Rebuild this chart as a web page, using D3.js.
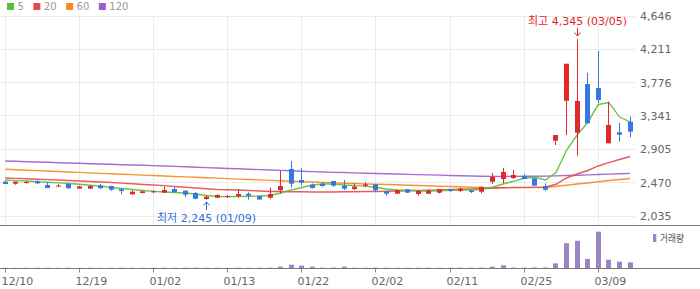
<!DOCTYPE html>
<html>
<head>
<meta charset="utf-8">
<script src="https://cdn.jsdelivr.net/npm/d3@7"></script>
<style>
  body { margin: 0; background: #fff; }
  text { font-family: "DejaVu Sans", "Noto Sans CJK KR", sans-serif; }
</style>
</head>
<body>
<script>
// daily candles, 12/10 .. 03/12
const dates = ["12/10","12/11","12/12","12/15","12/16","12/17","12/18","12/19","12/22","12/23",
  "12/24","12/26","12/29","12/30","01/02","01/05","01/06","01/07","01/08","01/09",
  "01/12","01/13","01/14","01/15","01/16","01/19","01/20","01/21","01/22","01/23",
  "01/26","01/27","01/28","01/29","01/30","02/02","02/03","02/04","02/05","02/06",
  "02/09","02/10","02/11","02/12","02/13","02/19","02/20","02/23","02/24","02/25",
  "02/26","02/27","03/03","03/04","03/05","03/06","03/09","03/10","03/11","03/12"];

const open  = [2483,2456,2470,2488,2440,2425,2453,2392,2392,2430, 2426,2384,2318,2335,2348,2340,2387,2365,2335,2257,
  2274,2285,2296,2326,2296,2274,2374,2649,2505,2444, 2457,2492,2431,2387,2431,2449,2361,2326,2384,2322,
  2326,2340,2387,2365,2370,2352,2483,2518,2531,2557, 2527,2426,3018,3540,3122,3758,3706,2984,3128,3266];
const high  = [2496,2483,2490,2500,2475,2450,2465,2430,2440,2455, 2430,2397,2370,2370,2370,2418,2410,2374,2348,2305,
  2320,2310,2387,2344,2296,2405,2622,2753,2662,2460, 2475,2492,2505,2462,2475,2449,2361,2380,2384,2374,
  2384,2384,2387,2405,2380,2423,2596,2662,2636,2583, 2527,2462,3092,4023,4345,3906,4189,3527,3249,3331];
const low   = [2451,2443,2460,2450,2400,2415,2392,2392,2390,2392, 2365,2318,2318,2330,2335,2335,2340,2283,2255,2245,
  2270,2270,2274,2248,2250,2261,2326,2405,2435,2395, 2418,2418,2374,2374,2410,2344,2300,2326,2335,2300,
  2322,2330,2348,2348,2335,2330,2453,2462,2518,2518, 2431,2365,2961,3092,2822,3245,3510,2984,3005,3062];
const close = [2453,2483,2478,2462,2400,2432,2397,2422,2426,2397, 2378,2361,2352,2357,2357,2374,2348,2313,2261,2287,
  2309,2296,2322,2300,2250,2322,2426,2457,2470,2400, 2427,2431,2392,2418,2449,2370,2326,2374,2340,2361,
  2365,2384,2361,2392,2348,2414,2548,2609,2570,2518, 2431,2378,3092,4023,3536,3245,3549,3223,3096,3136];

// volume, thousand shares
const volume = [8,6,7,9,10,6,8,7,9,6, 8,10,7,6,9,8,7,10,11,9, 8,7,10,9,8,12,49,123,86,49,
  12,15,49,10,9,12,8,7,9,8, 10,8,9,11,12,14,49,100,15,12, 18,20,175,930,1020,340,1360,310,235,210];

// moving averages
const ma5 = [2505,2497,2491,2483,2475,2467,2459,2449,2437,2427, 2407,2394,2381,2368,2357,2348,2342,2335,2322,2303,
  2290,2288,2290,2292,2296,2303,2335,2374,2407,2440, 2453,2453,2440,2431,2427,2407,2387,2374,2371,2365,
  2361,2365,2371,2374,2374,2384,2410,2453,2488,2527, 2540,2505,2603,2893,3092,3256,3491,3517,3330,3262];
const ma20 = [2531,2526,2521,2515,2510,2505,2498,2492,2485,2479, 2472,2464,2456,2447,2439,2431,2421,2411,2401,2391,
  2381,2378,2374,2368,2361,2355,2354,2352,2351,2349, 2348,2349,2351,2352,2354,2355,2358,2361,2365,2368,
  2371,2376,2380,2385,2389,2394,2398,2403,2407,2409, 2412,2414,2449,2531,2583,2629,2688,2731,2773,2812];
const ma60 = [2645,2639,2633,2627,2622,2616,2610,2604,2598,2592, 2586,2580,2575,2569,2563,2557,2551,2546,2540,2534,
  2529,2523,2517,2512,2506,2500,2495,2489,2483,2478, 2472,2468,2463,2459,2455,2450,2446,2442,2437,2433,
  2429,2424,2420,2416,2411,2407,2406,2405,2405,2405, 2406,2408,2424,2437,2453,2466,2482,2499,2512,2525];
const ma120 = [2753,2749,2744,2740,2736,2731,2727,2723,2718,2714, 2710,2705,2701,2697,2692,2688,2683,2677,2672,2667,
  2662,2656,2651,2646,2640,2635,2630,2625,2619,2614, 2609,2605,2602,2598,2594,2590,2587,2583,2579,2575,
  2572,2568,2564,2560,2557,2553,2552,2552,2552,2553, 2554,2556,2559,2563,2567,2572,2577,2582,2587,2592];

const xTicks = ["12/10","12/19","01/02","01/13","01/22","02/02","02/11","02/25","03/09"];
const yTicks = [2035, 2470, 2905, 3341, 3776, 4211, 4646];
const maNames = ["5", "20", "60", "120"];
const maColors = ["#5bbd3c", "#e94a4a", "#f5891e", "#9b5fcd"];

const upColor = "#e0292b", downColor = "#3778e0", volColor = "#9a86c6";

const width = 700, height = 289;
const svg = d3.select("body").append("svg")
    .attr("width", width)
    .attr("height", height);

const x = d3.scalePoint().domain(dates).range([5.3, 630.1]);
const y = d3.scaleLinear().domain([2035, 4646]).range([216, 16]);
const yVol = d3.scaleLinear().domain([0, 1496]).range([268, 228]);
const px = d => Math.floor(x(d)) + 0.5;

// grid
svg.append("g").selectAll("line")
  .data(yTicks)
  .join("line")
    .attr("x1", 0).attr("x2", 635)
    .attr("y1", d => Math.floor(y(d)) + 0.5)
    .attr("y2", d => Math.floor(y(d)) + 0.5)
    .attr("stroke", "#ebebeb");
svg.append("g").selectAll("line")
  .data(xTicks)
  .join("line")
    .attr("x1", px).attr("x2", px)
    .attr("y1", 16).attr("y2", 225)
    .attr("stroke", "#ebebeb");

// moving averages
const mas = [ma5, ma20, ma60, ma120];
const line = d3.line().x((d, i) => x(dates[i])).y(d => y(d));
svg.append("g").selectAll("path")
  .data([3, 2, 1, 0])
  .join("path")
    .attr("d", k => line(mas[k]))
    .attr("fill", "none")
    .attr("stroke", k => maColors[k])
    .attr("stroke-width", 1.4)
    .attr("stroke-opacity", 0.9);

// candles
const idx = d3.range(dates.length);
const color = i => close[i] >= open[i] ? upColor : downColor;
const candle = svg.append("g").selectAll("g")
  .data(idx)
  .join("g");
candle.append("line")
    .attr("x1", i => px(dates[i])).attr("x2", i => px(dates[i]))
    .attr("y1", i => y(high[i])).attr("y2", i => y(low[i]))
    .attr("stroke", color);
candle.append("rect")
    .attr("x", i => px(dates[i]) - 2.5)
    .attr("width", 5)
    .attr("y", i => y(Math.max(open[i], close[i])))
    .attr("height", i => Math.max(1, Math.abs(y(open[i]) - y(close[i]))))
    .attr("fill", color);

// volume
svg.append("g").selectAll("rect")
  .data(idx)
  .join("rect")
    .attr("x", i => px(dates[i]) - 2.5)
    .attr("width", 5)
    .attr("y", i => yVol(volume[i]))
    .attr("height", i => yVol(0) - yVol(volume[i]))
    .attr("fill", volColor);

// panel borders
svg.append("line")
    .attr("x1", 0).attr("x2", 700).attr("y1", 225.5).attr("y2", 225.5)
    .attr("stroke", "#7a7a7a");

// axes
const xAxis = svg.append("g")
    .attr("transform", "translate(0,268)")
    .call(d3.axisBottom(x).tickValues(xTicks).tickSize(4).tickSizeOuter(0));
xAxis.select(".domain").remove();
xAxis.selectAll(".tick").attr("transform", d => `translate(${px(d)},0.5)`);
xAxis.selectAll(".tick line").attr("stroke", "#888");
xAxis.selectAll(".tick text")
    .attr("text-anchor", "start")
    .attr("x", -4)
    .attr("y", 9)
    .attr("fill", "#666")
    .attr("font-size", 11)
    .attr("font-family", null);
svg.append("line")
    .attr("x1", 0).attr("x2", 700).attr("y1", 268.5).attr("y2", 268.5)
    .attr("stroke", "#7a7a7a");

const yAxis = svg.append("g")
    .attr("transform", "translate(640,0)")
    .call(d3.axisRight(y).tickValues(yTicks).tickFormat(d3.format(",")).tickSize(0).tickPadding(0));
yAxis.select(".domain").remove();
yAxis.selectAll(".tick text")
    .attr("fill", "#666")
    .attr("font-size", 11)
    .attr("font-family", null);

// legend
let lx = 7;
maNames.forEach((name, k) => {
  svg.append("rect")
      .attr("x", lx).attr("y", 3)
      .attr("width", 7).attr("height", 7)
      .attr("fill", maColors[k]);
  const t = svg.append("text")
      .attr("x", lx + 10.5).attr("y", 10)
      .attr("font-size", 10)
      .attr("fill", "#999")
      .text(name);
  lx += 10.5 + t.node().getComputedTextLength() + 9.5;
});

svg.append("rect")
    .attr("x", 653).attr("y", 234)
    .attr("width", 3.3).attr("height", 8)
    .attr("fill", volColor);
svg.append("text")
    .attr("x", 660).attr("y", 241.5)
    .attr("font-size", 10.5)
    .attr("textLength", 24)
    .attr("lengthAdjust", "spacingAndGlyphs")
    .attr("fill", "#555")
    .text("거래량");

// high / low markers
const hi = d3.maxIndex(high), lo = d3.minIndex(low);
const fmt = d3.format(",");
const hx = px(dates[hi]), lxp = px(dates[lo]);
svg.append("text")
    .attr("x", hx).attr("y", 24.5)
    .attr("text-anchor", "middle")
    .attr("font-size", 11)
    .attr("fill", "#e52525")
    .text(`최고 ${fmt(high[hi])} (${dates[hi]})`);
svg.append("path")
    .attr("d", `M${hx},${y(high[hi]) - 11}V${y(high[hi]) - 3}M${hx - 3},${y(high[hi]) - 6.5}L${hx},${y(high[hi]) - 3}L${hx + 3},${y(high[hi]) - 6.5}`)
    .attr("fill", "none")
    .attr("stroke", "#e52525");
svg.append("text")
    .attr("x", lxp).attr("y", 222)
    .attr("text-anchor", "middle")
    .attr("font-size", 11)
    .attr("fill", "#2f6fd8")
    .text(`최저 ${fmt(low[lo])} (${dates[lo]})`);
svg.append("path")
    .attr("d", `M${lxp},${y(low[lo]) + 10}V${y(low[lo]) + 2}M${lxp - 3},${y(low[lo]) + 5.5}L${lxp},${y(low[lo]) + 2}L${lxp + 3},${y(low[lo]) + 5.5}`)
    .attr("fill", "none")
    .attr("stroke", "#2f6fd8");
</script>
</body>
</html>
